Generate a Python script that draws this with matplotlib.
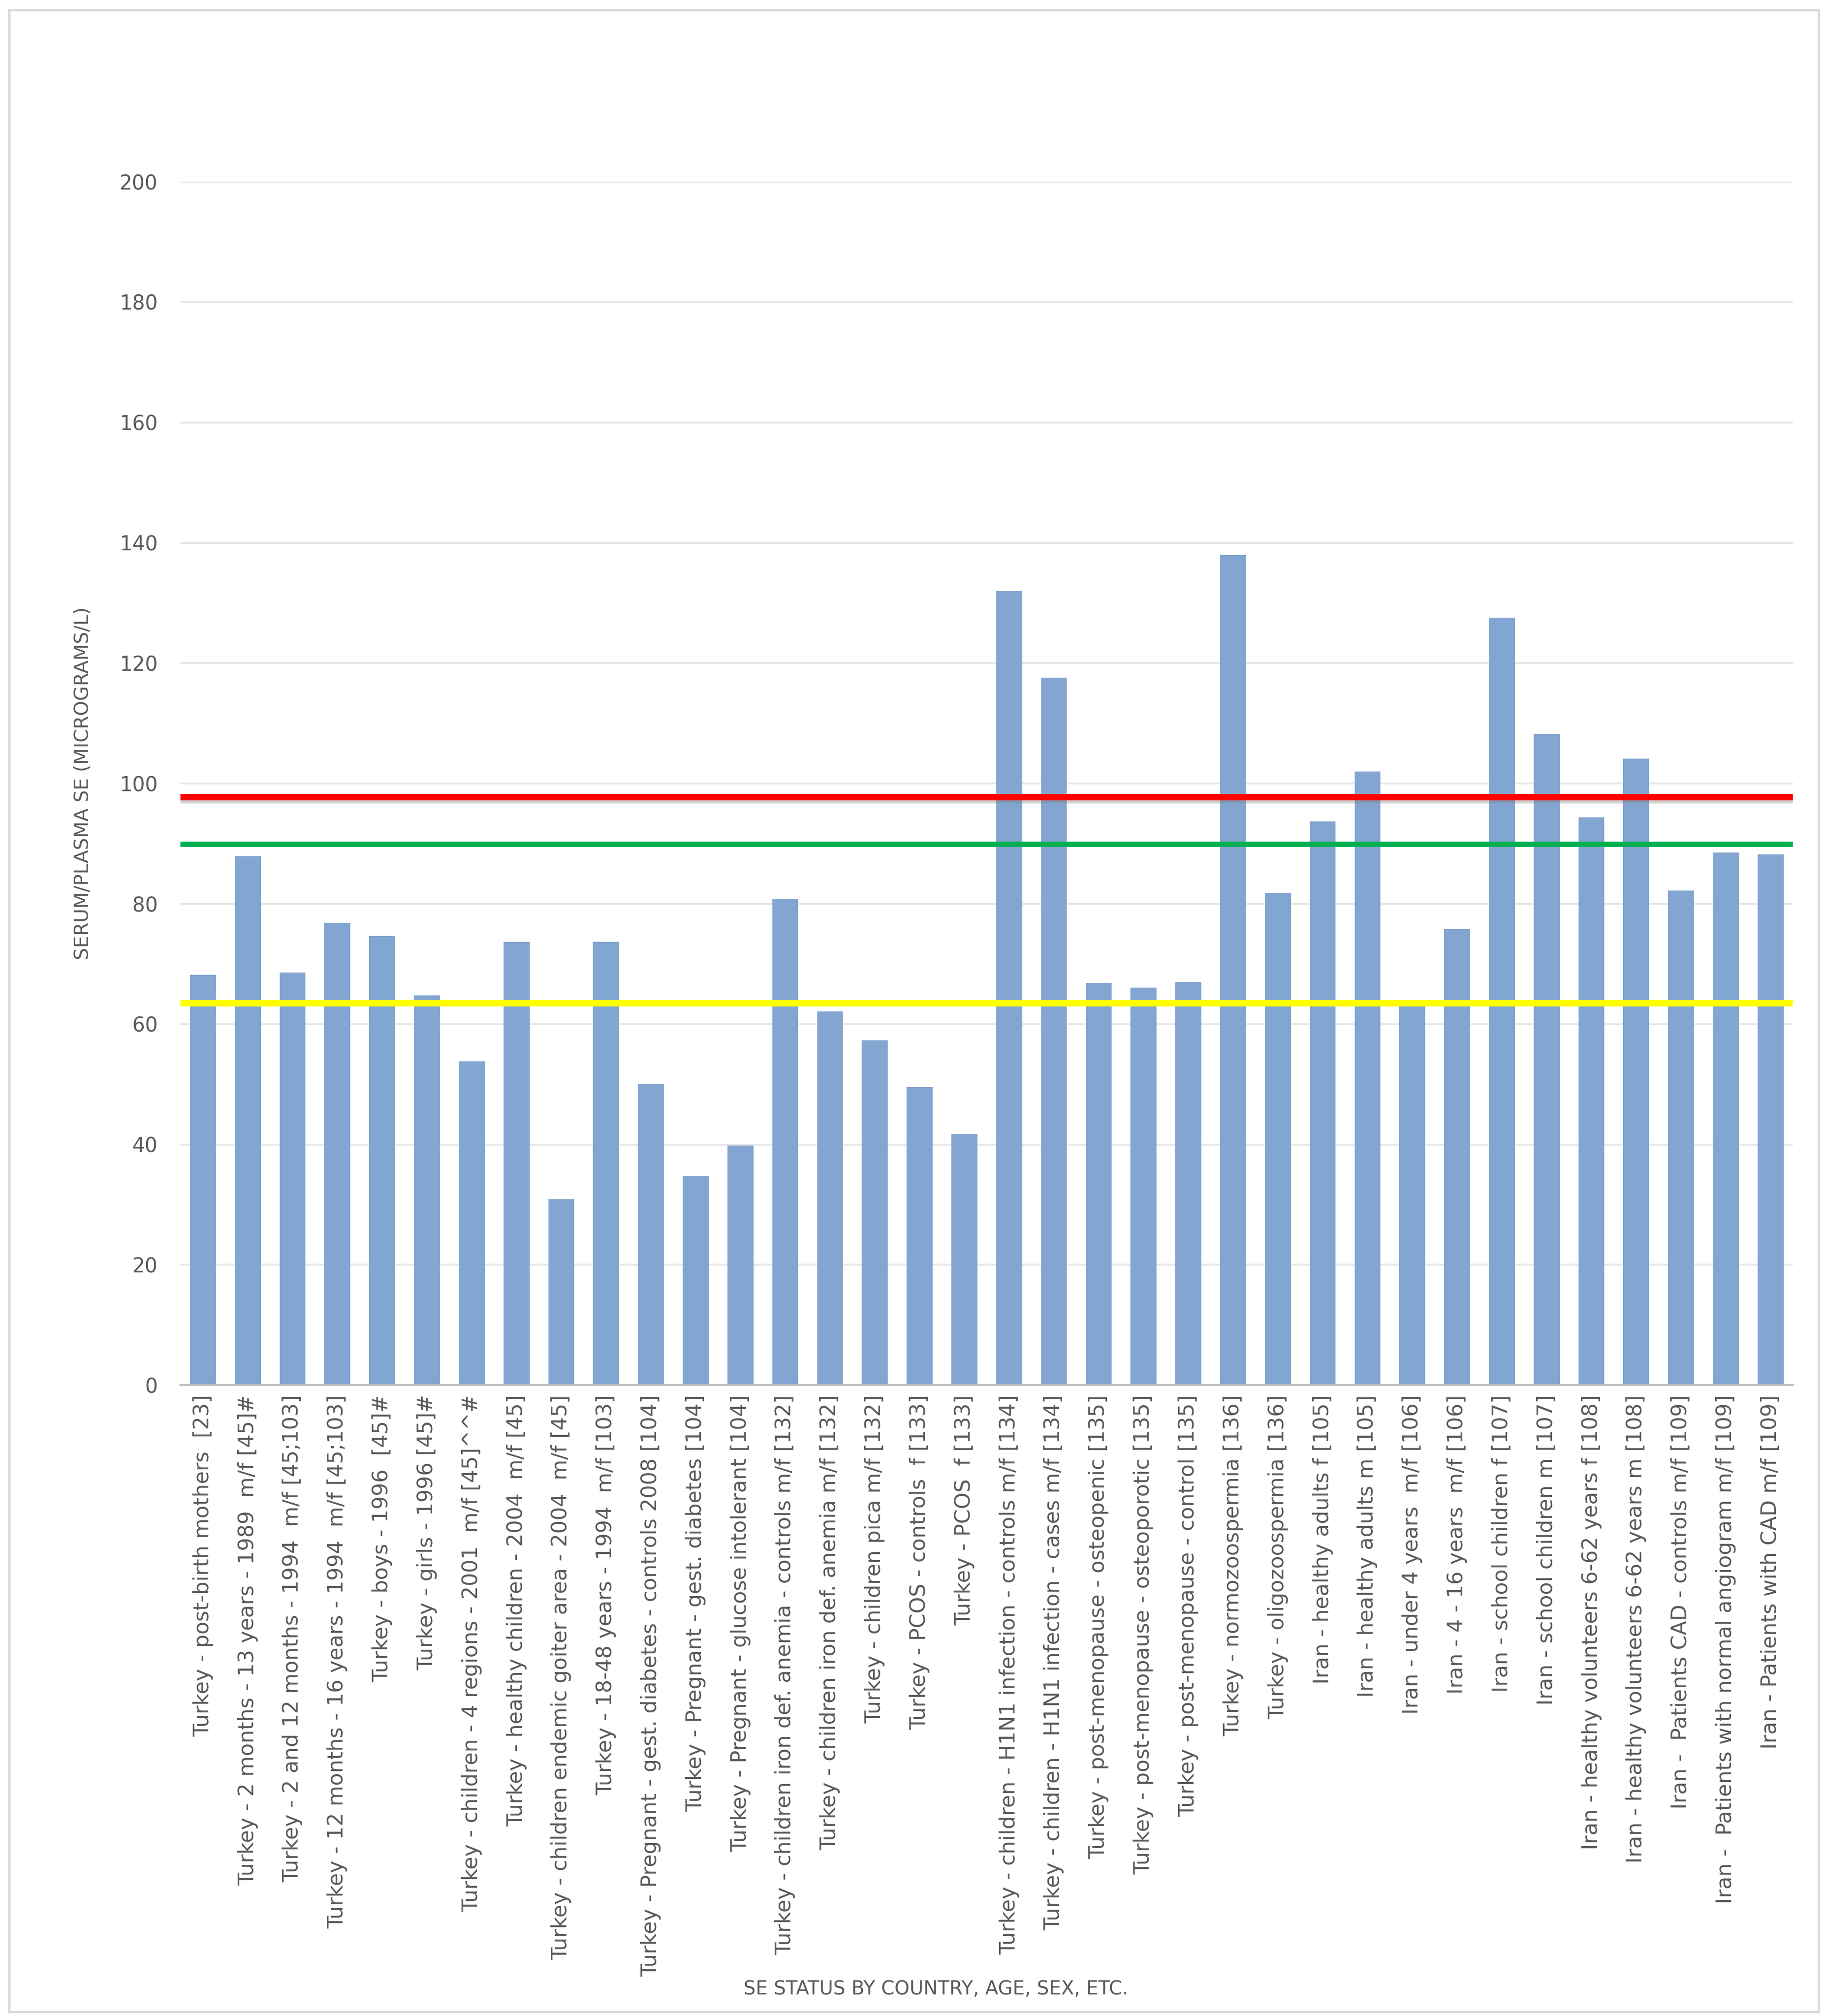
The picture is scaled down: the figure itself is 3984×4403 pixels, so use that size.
# Selenium status bar chart (Turkey / Iran) with reference lines

import matplotlib.pyplot as plt
from matplotlib.patches import Rectangle
import numpy as np

labels = [
    "Turkey - post-birth mothers  [23]",
    "Turkey - 2 months - 13 years - 1989  m/f [45]#",
    "Turkey - 2 and 12 months - 1994  m/f [45;103]",
    "Turkey - 12 months - 16 years - 1994  m/f [45;103]",
    "Turkey - boys - 1996  [45]#",
    "Turkey - girls - 1996 [45]#",
    "Turkey - children - 4 regions - 2001  m/f [45]^^#",
    "Turkey - healthy children - 2004  m/f [45]",
    "Turkey - children endemic goiter area - 2004  m/f [45]",
    "Turkey - 18-48 years - 1994  m/f [103]",
    "Turkey - Pregnant - gest. diabetes - controls 2008 [104]",
    "Turkey - Pregnant - gest. diabetes [104]",
    "Turkey - Pregnant - glucose intolerant [104]",
    "Turkey - children iron def. anemia - controls m/f [132]",
    "Turkey - children iron def. anemia m/f [132]",
    "Turkey - children pica m/f [132]",
    "Turkey - PCOS - controls  f [133]",
    "Turkey - PCOS  f [133]",
    "Turkey - children - H1N1 infection - controls m/f [134]",
    "Turkey - children - H1N1 infection - cases m/f [134]",
    "Turkey - post-menopause - osteopenic [135]",
    "Turkey - post-menopause - osteoporotic [135]",
    "Turkey - post-menopause - control [135]",
    "Turkey - normozoospermia [136]",
    "Turkey - oligozoospermia [136]",
    "Iran - healthy adults f [105]",
    "Iran - healthy adults m [105]",
    "Iran - under 4 years  m/f [106]",
    "Iran - 4 - 16 years  m/f [106]",
    "Iran - school children f [107]",
    "Iran - school children m [107]",
    "Iran - healthy volunteers 6-62 years f [108]",
    "Iran - healthy volunteers 6-62 years m [108]",
    "Iran -  Patients CAD - controls m/f [109]",
    "Iran -  Patients with normal angiogram m/f [109]",
    "Iran - Patients with CAD m/f [109]",
]
values = [68.2, 87.9, 68.6, 76.8, 74.7, 64.8, 53.8, 73.7, 30.9, 73.7,
          50.0, 34.7, 39.8, 80.8, 62.1, 57.3, 49.6, 41.7, 132.0, 117.6,
          66.8, 66.1, 67.0, 138.0, 81.8, 93.7, 102.0, 63.1, 75.8, 127.6,
          108.2, 94.4, 104.1, 82.2, 88.5, 88.2]
ref_red = 97.7
ref_green = 89.9
ref_yellow = 63.5
yticks = list(range(0, 201, 20))

plt.rcParams['font.family'] = ['DejaVu Sans']
txt = '#595959'

fig = plt.figure(figsize=(13.28, 14.6767), dpi=300)
fig.patches.append(Rectangle((0.005, 0.002), 0.992, 0.993, transform=fig.transFigure,
                             fill=False, edgecolor='#D9D9D9', linewidth=1.2))
ax = fig.add_axes([0.099, 0.3129, 0.884, 0.5969])

x = np.arange(len(values))
ax.bar(x, values, width=0.58, color='#82A5D1', zorder=2)

# reference lines
ax.axhline(ref_red - 0.45, color='#808080', alpha=0.35, linewidth=3.5, zorder=3)
ax.axhline(ref_red, color='#FF0000', linewidth=3.4, zorder=4)
ax.axhline(ref_green, color='#00B050', linewidth=2.8, zorder=4)
ax.axhline(ref_yellow, color='#FFFF00', linewidth=3.4, zorder=4)

ax.set_xlim(-0.5, len(values) - 0.5)
ax.set_ylim(0, 200)
ax.set_yticks(yticks)
ax.yaxis.grid(True, color='#E6E6E6', linewidth=1.0, zorder=0)
ax.set_axisbelow(True)
for s in ['top', 'right', 'left']:
    ax.spines[s].set_visible(False)
ax.spines['bottom'].set_color('#BFBFBF')
ax.spines['bottom'].set_linewidth(1.0)

ax.set_xticks(x)
ax.set_xticklabels(labels, rotation=90, fontsize=11, color=txt)
ax.tick_params(axis='x', length=0, pad=5)
ax.tick_params(axis='y', length=0, pad=12, labelsize=10.5, labelcolor=txt)

ax.set_ylabel('SERUM/PLASMA SE (MICROGRAMS/L)', fontsize=10, color=txt, labelpad=14)
fig.text(0.513, 0.0135, 'SE STATUS BY COUNTRY, AGE, SEX, ETC.', fontsize=10,
         color=txt, ha='center', va='center')

fig.savefig('out.png', dpi=300)
